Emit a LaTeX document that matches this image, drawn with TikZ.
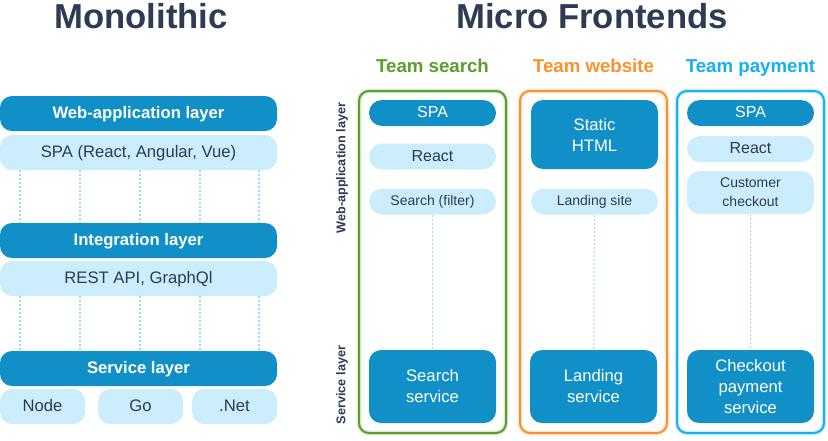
\documentclass[tikz,border=0pt]{standalone}
\usepackage{fontspec}
\setmainfont{Liberation Sans}
\usepackage{tikz}

\definecolor{darkblue}{RGB}{17,144,200}
\definecolor{lightblue}{RGB}{204,237,252}
\definecolor{textdark}{RGB}{45,59,85}
\definecolor{dotblue}{RGB}{160,218,246}
\definecolor{teamgreen}{RGB}{92,158,44}
\definecolor{teamorange}{RGB}{249,145,46}
\definecolor{teamblue}{RGB}{22,174,244}

\tikzset{
  oneline/.style={text height=0.72em, text depth=0pt},
  darkbar/.style={fill=darkblue, text=white, rounded corners=9pt, inner sep=0pt, minimum width=207.75pt, minimum height=26.25pt, oneline, font=\fontsize{12.5}{14}\selectfont\bfseries},
  lightbar/.style={fill=lightblue, text=textdark, rounded corners=9pt, inner sep=0pt, minimum width=207.75pt, minimum height=26.25pt, oneline, font=\fontsize{12.5}{14}\selectfont},
  langbox/.style={lightbar, minimum width=63.75pt},
  teambox/.style={draw, line width=1.5pt, rounded corners=7.5pt, minimum width=110.25pt, minimum height=256.5pt, inner sep=0pt, preaction={draw, line width=3.5pt, draw opacity=0.2}},
  teamlabel/.style={anchor=base, font=\fontsize{14}{16}\selectfont\bfseries},
  titletext/.style={anchor=base, text=textdark, font=\fontsize{26}{30}\selectfont\bfseries},
  pill/.style={rounded corners=9.75pt, inner sep=0pt, minimum width=95.25pt, minimum height=19.5pt, align=center, font=\fontsize{12}{14}\selectfont},
  darkpill/.style={pill, oneline, fill=darkblue, text=white},
  lightpill/.style={pill, oneline, fill=lightblue, text=textdark},
  smallpill/.style={pill, fill=lightblue, text=textdark, font=\fontsize{10.5}{14}\selectfont},
  block/.style={fill=darkblue, text=white, rounded corners=9pt, inner sep=0pt, minimum width=95.25pt, align=center, font=\fontsize{12.5}{15.75}\selectfont},
  sidelabel/.style={rotate=90, text=textdark, font=\fontsize{9.5}{11}\selectfont\bfseries},
  dotline/.style={draw=dotblue, line width=1.5pt, dash pattern=on 1.5pt off 1.5pt},
  finedotline/.style={draw=dotblue, line width=0.75pt, dash pattern=on 1.5pt off 1.5pt},
}

\begin{document}
\begin{tikzpicture}[x=0.75pt,y=0.75pt,yscale=-1]
\useasboundingbox (0,0) rectangle (828,440);

% Text Node
\draw (141,28) node [titletext] (monotitle) {Monolithic};
% Text Node
\draw (592,28) node [titletext] (microtitle) {Micro Frontends};

%Shape: Monolithic layers
\draw (138.5,113.5) node [darkbar] (webl) {Web-application layer};
\draw (138.5,152.5) node [lightbar] (spa) {SPA (React, Angular, Vue)};
\draw (138.5,240.5) node [darkbar] (intl) {Integration layer};
\draw (138.5,278.5) node [lightbar] (rest) {REST API, GraphQl};
\draw (138.5,368.5) node [darkbar] (servl) {Service layer};
\draw (42.5,406.5) node [langbox] (node) {Node};
\draw (140.5,406.5) node [langbox] (go) {Go};
\draw (234.5,406.5) node [langbox] (net) {.Net};

% dotted links between layers
\foreach \i/\x in {1/20,2/80,3/140,4/200,5/259} {
  \coordinate (col\i) at (\x,0);
  \draw [dotline] (spa.south -| col\i) -- (intl.north -| col\i);
  \draw [dotline] (rest.south -| col\i) -- (servl.north -| col\i);
}

% Text Node
\draw (342,168) node [sidelabel] (weblab) {Web-application layer};
% Text Node
\draw (342,385) node [sidelabel] (servlab) {Service layer};

%Shape: Team search
\draw (432.5,72) node [teamlabel, text=teamgreen] (searchlab) {Team search};
\draw (432.5,262) node [teambox, draw=teamgreen] (searchbox) {};
\draw (432.5,113) node [darkpill] (spaone) {SPA};
\draw (432.5,156.5) node [lightpill] (reactone) {React};
\draw (432.5,201.5) node [smallpill] (filter) {Search (filter)};
\draw (432.5,386.5) node [block, minimum height=54.75pt] (searchsvc) {Search\\service};
\draw [finedotline] (filter) -- (searchsvc);

%Shape: Team website
\draw (593.5,72) node [teamlabel, text=teamorange] (weblabel) {Team website};
\draw (593.5,262) node [teambox, draw=teamorange] (websitebox) {};
\draw (594.5,134.5) node [block, minimum height=51.75pt] (html) {Static\\HTML};
\draw (594.5,201.5) node [smallpill] (landsite) {Landing site};
\draw (593.5,386.5) node [block, minimum height=54.75pt] (landsvc) {Landing\\service};
\draw [finedotline] (landsite) -- (landsvc);

%Shape: Team payment
\draw (750.5,72) node [teamlabel, text=teamblue] (paylab) {Team payment};
\draw (750.5,262) node [teambox, draw=teamblue] (paybox) {};
\draw (750.5,113) node [darkpill] (spatwo) {SPA};
\draw (750.5,149) node [lightpill] (reacttwo) {React};
\draw (750.5,192.5) node [smallpill, minimum height=32.25pt] (customer) {Customer\\checkout};
\draw (750.5,386.5) node [block, minimum height=54.75pt] (checksvc) {Checkout\\payment\\service};
\draw [finedotline] (customer) -- (checksvc);

\end{tikzpicture}
\end{document}
